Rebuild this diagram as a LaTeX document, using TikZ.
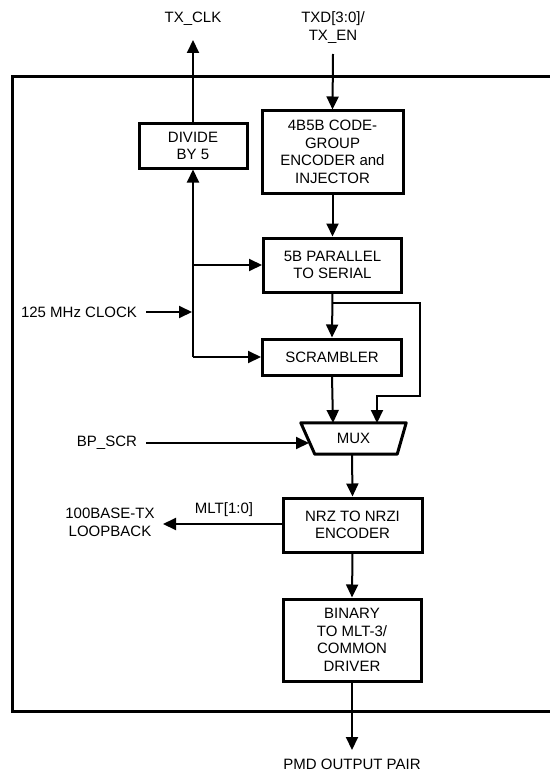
\documentclass[tikz,border=0pt]{standalone}
\usepackage{fontspec}
\setmainfont{Liberation Sans}
\usetikzlibrary{arrows.meta}
\begin{document}
\begin{tikzpicture}[x=1pt,y=-1pt,
  every node/.style={font=\fontsize{15}{17.5}\selectfont, inner sep=0pt},
  blk/.style={draw, line width=3pt, align=center},
  lbl/.style={align=center},
  arr/.style={line width=2pt, -{Triangle[length=13pt,width=12pt]}},
  wire/.style={line width=2pt}]
\useasboundingbox (0,0) rectangle (549,773);
% frame
\draw[line width=3pt] (560,77) -- (12.5,77) -- (12.5,711.5) -- (560,711.5);
% blocks
\node[blk, minimum width=108, minimum height=44] (div) at (193,146) {DIVIDE\\BY 5};
\node[blk, minimum width=141, minimum height=82] (enc) at (332.5,152) {4B5B CODE-\\GROUP\\ENCODER and\\INJECTOR};
\node[blk, minimum width=138, minimum height=54] (p2s) at (332.5,265) {5B PARALLEL\\TO SERIAL};
\node[blk, minimum width=139, minimum height=36] (scr) at (332,357) {SCRAMBLER};
\node[minimum width=105, minimum height=31] (mux) at (353.5,438.5) {MUX};
\draw[line width=3pt, line join=round] (mux.north west) -- (mux.north east) -- ([xshift=-9]mux.south east) -- ([xshift=14]mux.south west) -- cycle;
\node[blk, minimum width=139, minimum height=54] (nrz) at (352.5,525) {NRZ TO NRZI\\ENCODER};
\node[blk, minimum width=138, minimum height=82] (bin) at (352,640) {BINARY\\TO MLT-3/\\COMMON\\DRIVER};
% labels
\node[lbl] (txclk) at (193,19) {TX\_CLK};
\node[lbl] (txd) at (333,27.5) {TXD[3:0]/\\TX\_EN};
\node[lbl] (clk) at (79,312) {125 MHz CLOCK};
\node[lbl] (bpscr) at (107,443) {BP\_SCR};
\node[lbl] (loop) at (110,522.5) {100BASE-TX\\LOOPBACK};
\node[lbl] (mlt) at (224,510) {MLT[1:0]};
\node (pmd) at (352,764) {PMD OUTPUT PAIR};
% coordinates
\coordinate (txclkend) at (193,40);
\coordinate (txdstart) at (333,54);
\coordinate (clkstart) at (146,312);
\coordinate (clkend) at (192,312);
\coordinate (ct) at (193,357);
\coordinate (tap) at (193,265);
\coordinate (br) at (333,303);
\coordinate (brr) at (420,396);
\coordinate (muxin1) at (333,423);
\coordinate (muxin2) at (377,423);
\coordinate (bpstart) at (146,443);
\coordinate (bpend) at (309,443);
\coordinate (muxout) at (352,454);
\coordinate (loopend) at (163,524);
\coordinate (pmdend) at (352,750);
% connectors
\draw[arr] (div.north) -- (txclkend);
\draw[arr] (txdstart) -- (enc.north);
\draw[arr] (enc.south) -- (p2s.north);
\draw[arr] (ct) -- (div.south);
\draw[arr] (ct) -- (scr.west);
\draw[arr] (tap) -- (p2s.west);
\draw[arr] (clkstart) -- (clkend);
\draw[arr] (p2s.south) -- (scr.north);
\draw[arr] (br) -| (brr) -| (muxin2);
\draw[arr] (scr.south) -- (muxin1);
\draw[arr] (bpstart) -- (bpend);
\draw[arr] (muxout) -- (nrz.north);
\draw[arr] (nrz.west |- loopend) -- (loopend);
\draw[arr] (nrz.south) -- (bin.north);
\draw[arr] (bin.south) -- (pmdend);
\end{tikzpicture}
\end{document}
